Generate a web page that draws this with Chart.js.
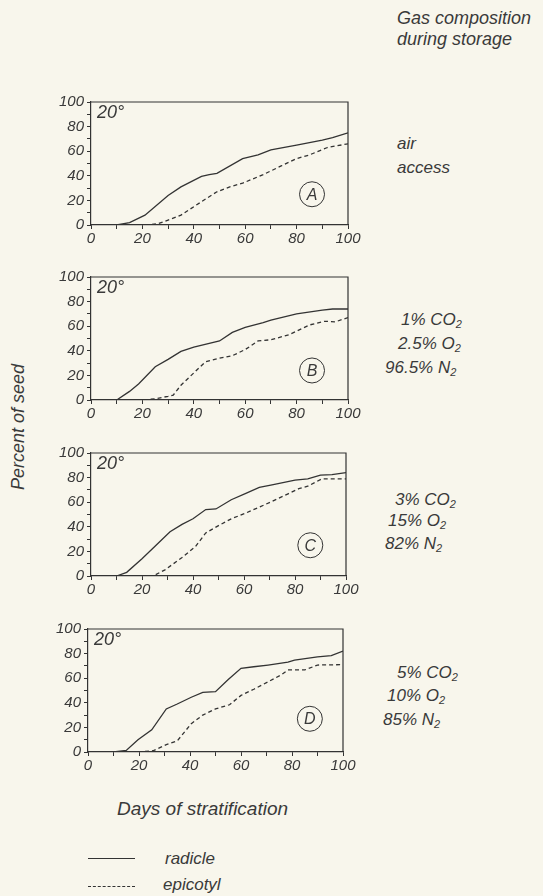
<!DOCTYPE html>
<html>
<head>
<meta charset="utf-8">
<script src="https://cdn.jsdelivr.net/npm/chart.js@4.4.1/dist/chart.umd.min.js"></script>
<style>
  body { margin: 0; background: #f8f6ec; }
  #page { position: relative; width: 543px; height: 896px; overflow: hidden;
          font-family: 'Liberation Sans', Arial, sans-serif; font-style: italic; color: #3a3a3a; }
  #page canvas { position: absolute; }
  .lbl { position: absolute; white-space: nowrap; font-size: 17px; line-height: 20px; }
  .lbl sub { font-size: 11px; vertical-align: -3px; }
  .legline { position: absolute; width: 47px; border-top: 1.3px solid #333; }
</style>
</head>
<body>
<div id="page">
  <div class="lbl" style="left:397px;top:8px;font-size:18px">Gas composition</div>
  <div class="lbl" style="left:397px;top:29px;font-size:18px">during storage</div>

  <div class="lbl" style="left:397px;top:134px">air</div>
  <div class="lbl" style="left:397px;top:158px">access</div>

  <div class="lbl" style="left:401px;top:310px">1% CO<sub>2</sub></div>
  <div class="lbl" style="left:398px;top:334px">2.5% O<sub>2</sub></div>
  <div class="lbl" style="left:385px;top:358px">96.5% N<sub>2</sub></div>

  <div class="lbl" style="left:395px;top:490px">3% CO<sub>2</sub></div>
  <div class="lbl" style="left:388px;top:511px">15% O<sub>2</sub></div>
  <div class="lbl" style="left:385px;top:534px">82% N<sub>2</sub></div>

  <div class="lbl" style="left:397px;top:663px">5% CO<sub>2</sub></div>
  <div class="lbl" style="left:387px;top:686px">10% O<sub>2</sub></div>
  <div class="lbl" style="left:383px;top:710px">85% N<sub>2</sub></div>

  <div class="lbl" style="left:18px;top:427px;font-size:18px;transform:translate(-50%,-50%) rotate(-90deg)">Percent of seed</div>
  <div class="lbl" style="left:117px;top:799px;font-size:19px">Days of stratification</div>

  <div class="legline" style="left:88px;top:858px"></div>
  <div class="lbl" style="left:165px;top:849px">radicle</div>
  <div class="legline" style="left:88px;top:886px;border-top:1.3px dashed #333"></div>
  <div class="lbl" style="left:163px;top:875px">epicotyl</div>
</div>
<script>
// days and percent of seed
const daysRadA = [10, 15, 21, 30, 35, 43, 46, 49, 59, 65, 70, 80, 90, 94, 100];
const radA     = [0, 2, 8, 24, 31, 39.5, 41, 42, 54, 57, 61, 65, 69, 71, 75];
const daysEpiA = [21, 26, 30, 35, 43, 49, 54, 59, 67, 74, 80, 85, 92, 100];
const epiA     = [0, 1, 4, 8, 19, 27, 31, 34, 41, 48, 54, 57, 63, 66];

const daysRadB = [10, 15, 18.5, 25, 30, 35, 40, 50, 55, 60, 67, 70, 80, 90, 94, 100];
const radB     = [0, 7, 13, 27, 33, 39.5, 43, 48, 55, 59, 63, 65, 70, 73, 74, 74];
const daysEpiB = [20.5, 25, 30, 32, 35, 44.5, 50, 55, 60, 65, 70, 77, 85, 91, 95, 100];
const epiB     = [0, 1, 3, 4, 12, 31, 34, 36, 41, 48, 49, 53, 61, 64, 63.5, 67];

const daysRadC = [10, 14, 20, 25, 31, 35.7, 40, 45, 49, 55, 60.5, 66, 71, 80, 85, 90, 94.5, 100];
const radC     = [0, 3, 14, 24, 36, 42, 46.5, 54, 54.5, 62, 67, 72, 74, 78, 79, 82, 82.5, 84];
const daysEpiC = [20, 24.6, 29, 35.7, 41, 45, 50, 55, 60.5, 66, 71, 77.5, 81.5, 85, 90.6, 100];
const epiC     = [0, 0.3, 5, 15, 24, 35, 41, 46.5, 51, 56, 60.6, 67, 71, 73, 79, 79];

const daysRadD = [10, 15, 19.6, 25, 30.7, 35, 40.5, 45, 50, 55, 60, 65, 70.6, 78.4, 81, 90, 95.4, 100];
const radD     = [0, 1.3, 10, 18, 35, 39, 44.5, 48.5, 49, 59, 68, 69.3, 70.7, 73, 74.7, 77.3, 78.4, 82];
const daysEpiD = [19.6, 25.5, 30.7, 35, 40.5, 45, 50, 55.5, 60, 65, 70.6, 76, 78.4, 85, 90, 100];
const epiD     = [0, 1, 6, 9, 23, 30, 35, 38.4, 46, 51, 57, 63, 66.7, 66.7, 70.7, 71];

const panelLetters = ['A', 'B', 'C', 'D'];
const tempLabel = '20°';

const ink = '#333';
const tickFont = { family: "'Liberation Sans', Arial, sans-serif", style: 'italic', size: 15 };

// plot boxes in page pixels: left, right, top, bottom
const panels = [
  { box: [91, 348, 100, 225], rx: daysRadA, r: radA, ex: daysEpiA, e: epiA, cx: 86, cy: 25 },
  { box: [91, 348, 275, 400], rx: daysRadB, r: radB, ex: daysEpiB, e: epiB, cx: 86, cy: 24 },
  { box: [91, 346, 451, 576], rx: daysRadC, r: radC, ex: daysEpiC, e: epiC, cx: 86, cy: 25 },
  { box: [88, 343, 627, 752], rx: daysRadD, r: radD, ex: daysEpiD, e: epiD, cx: 87, cy: 27 },
];

const AXW = 40, AXH = 25, PT = 10, PR = 15;

const panelDeco = {
  id: 'panelDeco',
  afterDraw(chart, args, opts) {
    const { ctx, chartArea: a, scales: { x, y } } = chart;
    ctx.save();
    ctx.strokeStyle = ink;
    ctx.lineWidth = 1.2;
    ctx.beginPath();
    ctx.moveTo(a.left, a.top);
    ctx.lineTo(a.right, a.top);
    ctx.lineTo(a.right, a.bottom);
    ctx.stroke();

    ctx.fillStyle = '#3a3a3a';
    ctx.font = "italic 18px 'Liberation Sans', Arial, sans-serif";
    ctx.textBaseline = 'top';
    ctx.fillText(tempLabel, a.left + 6, a.top + 2);

    const cx = x.getPixelForValue(opts.cx), cy = y.getPixelForValue(opts.cy);
    ctx.lineWidth = 1;
    ctx.beginPath();
    ctx.arc(cx, cy, 12.5, 0, Math.PI * 2);
    ctx.stroke();
    ctx.font = "italic 16px 'Liberation Sans', Arial, sans-serif";
    ctx.textAlign = 'center';
    ctx.textBaseline = 'middle';
    ctx.fillText(opts.letter, cx, cy + 1);
    ctx.restore();
  }
};

const toPts = (xs, ys) => xs.map((d, i) => ({ x: d, y: ys[i] }));

panels.forEach((p, i) => {
  const [L, R, T, B] = p.box;
  const cv = document.createElement('canvas');
  const w = (R - L) + AXW + PR, h = (B - T) + PT + AXH;
  cv.width = w; cv.height = h;
  cv.style.left = (L - AXW) + 'px';
  cv.style.top = (T - PT) + 'px';
  document.getElementById('page').appendChild(cv);

  new Chart(cv, {
    type: 'line',
    data: {
      datasets: [
        { label: 'radicle', data: toPts(p.rx, p.r), borderColor: ink, borderWidth: 1.3,
          pointRadius: 0, tension: 0, fill: false },
        { label: 'epicotyl', data: toPts(p.ex, p.e), borderColor: ink, borderWidth: 1.3,
          borderDash: [4, 3], pointRadius: 0, tension: 0, fill: false }
      ]
    },
    options: {
      responsive: false,
      animation: false,
      layout: { padding: { top: PT, right: PR, left: 0, bottom: 0 } },
      plugins: {
        legend: { display: false },
        tooltip: { enabled: false },
        panelDeco: { letter: panelLetters[i], cx: p.cx, cy: p.cy }
      },
      scales: {
        x: {
          type: 'linear', min: 0, max: 100,
          ticks: { stepSize: 10, autoSkip: false, maxRotation: 0, padding: 1,
                   color: '#3a3a3a', font: tickFont,
                   callback: v => (v % 20 === 0 ? v : '') },
          grid: { drawOnChartArea: false, tickLength: 4, color: ink },
          border: { color: ink, width: 1.2 },
          afterFit: s => { s.height = AXH; }
        },
        y: {
          min: 0, max: 100,
          ticks: { stepSize: 10, autoSkip: false, padding: 3,
                   color: '#3a3a3a', font: tickFont,
                   callback: v => (v % 20 === 0 ? v : '') },
          grid: { drawOnChartArea: false, tickLength: 4, color: ink },
          border: { color: ink, width: 1.2 },
          afterFit: s => { s.width = AXW; }
        }
      }
    },
    plugins: [panelDeco]
  });
});
</script>
</body>
</html>
